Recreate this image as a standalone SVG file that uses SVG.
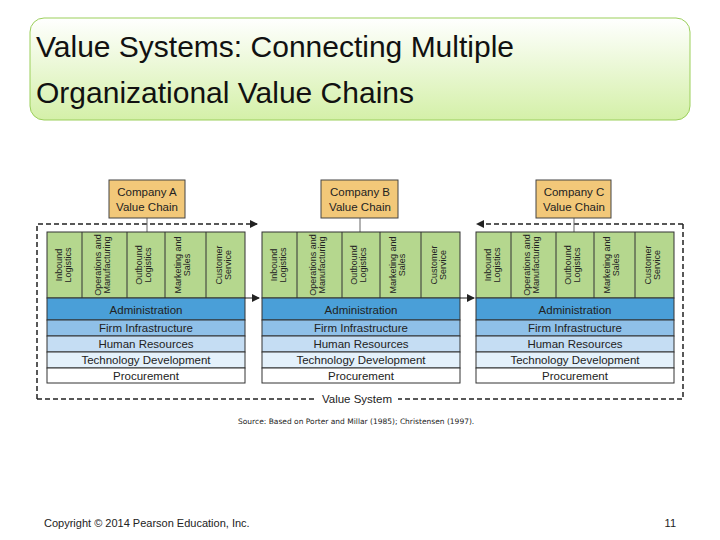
<svg xmlns="http://www.w3.org/2000/svg" width="720" height="540" viewBox="0 0 720 540">
<defs>
<linearGradient id="tg" x1="0" y1="0" x2="0" y2="1"><stop offset="0" stop-color="#ffffff"/><stop offset="1" stop-color="#d4f0a8"/></linearGradient>
<marker id="ar" markerWidth="8" markerHeight="8" refX="7" refY="4" orient="auto" markerUnits="userSpaceOnUse"><path d="M0,0 L8,4 L0,8 z" fill="#222"/></marker>
<g id="chain">
<rect x="0" y="0" width="198" height="66" fill="#b5d78e" stroke="#333" stroke-width="1"/>
<line x1="35" y1="0" x2="35" y2="66" stroke="#333"/>
<line x1="80" y1="0" x2="80" y2="66" stroke="#333"/>
<line x1="118" y1="0" x2="118" y2="66" stroke="#333"/>
<line x1="159" y1="0" x2="159" y2="66" stroke="#333"/>
<g class="v">
<text transform="translate(15,33) rotate(-90)">Inbound</text><text transform="translate(24,33) rotate(-90)">Logistics</text>
<text transform="translate(54,33) rotate(-90)">Operations and</text><text transform="translate(63,33) rotate(-90)">Manufacturing</text>
<text transform="translate(95,33) rotate(-90)">Outbound</text><text transform="translate(104,33) rotate(-90)">Logistics</text>
<text transform="translate(134,33) rotate(-90)">Marketing and</text><text transform="translate(143,33) rotate(-90)">Sales</text>
<text transform="translate(175,33) rotate(-90)">Customer</text><text transform="translate(184,33) rotate(-90)">Service</text>
</g>
<rect x="0" y="66" width="198" height="22" fill="#4a9fd8" stroke="#333"/>
<rect x="0" y="88" width="198" height="16" fill="#8fc0e8" stroke="#333"/>
<rect x="0" y="104" width="198" height="16" fill="#c5ddf3" stroke="#333"/>
<rect x="0" y="120" width="198" height="16" fill="#e4f1fb" stroke="#333"/>
<rect x="0" y="136" width="198" height="15" fill="#ffffff" stroke="#333"/>
<g class="s">
<text x="99" y="82" font-size="12.5">Administration</text>
<text x="99" y="100">Firm Infrastructure</text>
<text x="99" y="116">Human Resources</text>
<text x="99" y="132">Technology Development</text>
<text x="99" y="148">Procurement</text>
</g>
</g>
</defs>
<style>
text{font-family:"Liberation Sans",Arial,sans-serif;fill:#222}
.v text{font-size:9px;text-anchor:middle}
.s text{text-anchor:middle;font-size:11.5px}
.cb{fill:#f2c879;stroke:#444;stroke-width:1}
.ct{font-size:11.5px;text-anchor:middle}
.d{stroke:#222;stroke-width:1.5;stroke-dasharray:5,3;fill:none}
.ti{font-size:30px;fill:#111}
</style>
<rect x="30" y="18" width="660" height="102" rx="14" fill="url(#tg)" stroke="#9bcf5b" stroke-width="1"/>
<text class="ti" x="36" y="57">Value Systems: Connecting Multiple</text>
<text class="ti" x="36" y="103">Organizational Value Chains</text>

<g id="connectors">
<path class="d" d="M37,399 V224 H257" marker-end="url(#ar)"/>
<path class="d" d="M683,224 V399 H37"/>
<path class="d" d="M683,224 H477" marker-end="url(#ar)"/>
<line x1="245" y1="298" x2="259" y2="298" stroke="#222" stroke-width="1" marker-end="url(#ar)"/>
<line x1="460" y1="298" x2="474" y2="298" stroke="#222" stroke-width="1" marker-end="url(#ar)"/>
<line x1="147" y1="218" x2="147" y2="232" stroke="#666"/>
<line x1="360" y1="218" x2="360" y2="232" stroke="#666"/>
<line x1="574" y1="218" x2="574" y2="232" stroke="#666"/>
</g>
<rect x="316" y="392" width="82" height="14" fill="#fff"/>
<text x="357" y="403" font-size="11.5" text-anchor="middle">Value System</text>

<g id="companyA"><rect class="cb" x="109" y="180" width="76" height="38"/><text class="ct" x="147" y="196">Company A</text><text class="ct" x="147" y="211">Value Chain</text><use href="#chain" x="47" y="232"/></g>
<g id="companyB"><rect class="cb" x="321" y="180" width="77" height="38"/><text class="ct" x="360" y="196">Company B</text><text class="ct" x="360" y="211">Value Chain</text><use href="#chain" x="262" y="232"/></g>
<g id="companyC"><rect class="cb" x="536" y="180" width="75" height="38"/><text class="ct" x="574" y="196">Company C</text><text class="ct" x="574" y="211">Value Chain</text><use href="#chain" x="476" y="232"/></g>

<text x="238" y="424" font-size="7.5" style="font-family:'DejaVu Sans',sans-serif">Source: Based on Porter and Millar (1985); Christensen (1997).</text>
<text x="44" y="527" font-size="11">Copyright © 2014 Pearson Education, Inc.</text>
<text x="676" y="527" font-size="11" text-anchor="end">11</text>
</svg>
